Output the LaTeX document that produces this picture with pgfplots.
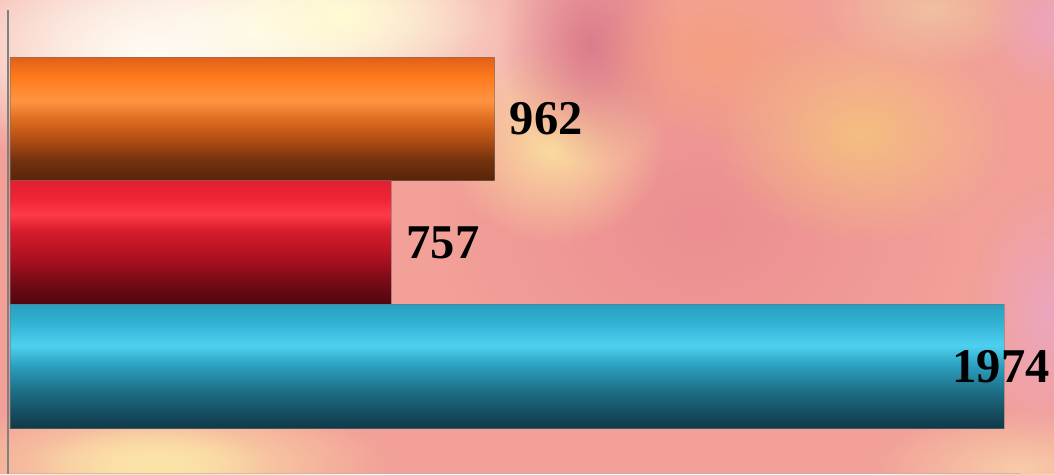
\documentclass[border=0pt]{standalone}
\usepackage{pgfplots}
\pgfplotsset{compat=1.18}
\usepackage{fontspec}
\setmainfont{Liberation Serif}
\usetikzlibrary{fadings}

% bar colours
\definecolor{o0}{HTML}{582408}\definecolor{o1}{HTML}{74320E}\definecolor{o2}{HTML}{B04D14}
\definecolor{o3}{HTML}{DC6A1E}\definecolor{o4}{HTML}{FF9443}\definecolor{o5}{HTML}{FF7A1C}\definecolor{o6}{HTML}{E06018}
\definecolor{r0}{HTML}{4E0510}\definecolor{r1}{HTML}{700A15}\definecolor{r2}{HTML}{A81020}
\definecolor{r3}{HTML}{D81C2C}\definecolor{r4}{HTML}{FF3A48}\definecolor{r5}{HTML}{F02535}\definecolor{r6}{HTML}{E02030}
\definecolor{b0}{HTML}{0F3A48}\definecolor{b1}{HTML}{14485A}\definecolor{b2}{HTML}{1E7088}
\definecolor{b3}{HTML}{2CA0C0}\definecolor{b4}{HTML}{4ED0F0}\definecolor{b5}{HTML}{30B0D0}\definecolor{b6}{HTML}{28A0C0}
% path bbox maps onto 25bp..75bp of the shading
\pgfdeclareverticalshading{orb}{100bp}{color(0bp)=(o0); color(25bp)=(o0); color(33.5bp)=(o1); color(41.5bp)=(o2); color(49.5bp)=(o3); color(57.5bp)=(o4); color(67bp)=(o5); color(75bp)=(o6); color(100bp)=(o6)}
\pgfdeclareverticalshading{redb}{100bp}{color(0bp)=(r0); color(25bp)=(r0); color(33bp)=(r1); color(43bp)=(r2); color(55bp)=(r3); color(61.5bp)=(r4); color(67.5bp)=(r5); color(75bp)=(r6); color(100bp)=(r6)}
\pgfdeclareverticalshading{blub}{100bp}{color(0bp)=(b0); color(25bp)=(b0); color(30bp)=(b1); color(40.5bp)=(b2); color(50.5bp)=(b3); color(58.5bp)=(b4); color(68.5bp)=(b5); color(75bp)=(b6); color(100bp)=(b6)}

% background colours
\definecolor{bgbase}{HTML}{F2A098}
\definecolor{cream}{HTML}{FFFCF2}
\definecolor{paley}{HTML}{FFFBD2}
\definecolor{peachy}{HTML}{FBDFA0}
\definecolor{dpink}{HTML}{DC7C8C}
\definecolor{oyel}{HTML}{F5BE80}
\definecolor{salm}{HTML}{F5A080}
\definecolor{byel}{HTML}{FCE4A8}
\definecolor{bpeach}{HTML}{F8CCA8}
\definecolor{tpeach}{HTML}{F0C0A0}
\definecolor{rpink}{HTML}{ECA6BE}
\definecolor{mpink}{HTML}{EC8E92}

\tikzfading[name=fuzzy, inner color=transparent!0, outer color=transparent!100]

\begin{document}
\begin{tikzpicture}[x=1pt,y=1pt]
\useasboundingbox (0,0) rectangle (1054,474);
% background (Y = 474 - pixel y)
\begin{scope}
\clip (0,0) rectangle (1054,474);
\fill[bgbase] (0,0) rectangle (1054,474);
\fill[mpink, path fading=fuzzy] (700,250) ellipse [x radius=260, y radius=200];
\fill[cream, path fading=fuzzy] (260,444) ellipse [x radius=360, y radius=150];
\fill[cream, path fading=fuzzy] (150,420) ellipse [x radius=250, y radius=120];
\fill[paley, path fading=fuzzy] (340,460) ellipse [x radius=150, y radius=70];
\fill[peachy, path fading=fuzzy] (555,330) ellipse [x radius=110, y radius=100];
\fill[dpink, path fading=fuzzy] (590,430) ellipse [x radius=90, y radius=120];
\fill[salm, path fading=fuzzy] (720,420) ellipse [x radius=120, y radius=90];
\fill[oyel, path fading=fuzzy] (860,340) ellipse [x radius=150, y radius=110];
\fill[tpeach, path fading=fuzzy] (930,465) ellipse [x radius=110, y radius=60];
\fill[rpink, path fading=fuzzy] (1054,450) ellipse [x radius=70, y radius=70];
\fill[byel, path fading=fuzzy] (160,10) ellipse [x radius=230, y radius=70];
\fill[byel, path fading=fuzzy] (150,10) ellipse [x radius=120, y radius=40];
\fill[bpeach, path fading=fuzzy] (1020,5) ellipse [x radius=150, y radius=60];
\fill[rpink, path fading=fuzzy] (1050,160) ellipse [x radius=80, y radius=130];
\end{scope}

\begin{axis}[at={(0,0)}, anchor=south west, scale only axis,
  width=1054pt, height=474pt,
  xmin=-19.86, xmax=2073.5, ymin=-0.869, ymax=2.962,
  axis lines=none, clip=false,
  xbar, bar width=1, bar shift=0pt,
  /pgf/number format/1000 sep={},
  /pgf/number format/assume math mode=true,
  nodes near coords,
  every node near coord/.append style={font=\fontsize{48.5}{48.5}\selectfont\bfseries, inner sep=0pt, text=black},
]
\addplot[xbar, shade, shading=orb, draw=black!55, draw opacity=0.5, line width=0.8pt,
  nodes near coords style={anchor=west, xshift=15pt}] coordinates {(962,2)};
\addplot[xbar, shade, shading=redb, draw=black!55, draw opacity=0.5, line width=0.8pt,
  nodes near coords style={anchor=west, xshift=15pt}] coordinates {(757,1)};
\addplot[xbar, shade, shading=blub, draw=black!55, draw opacity=0.5, line width=0.8pt,
  nodes near coords style={anchor=east, xshift=46pt}] coordinates {(1974,0)};
\end{axis}
% axis lines
\draw[black!50, line width=2pt] (8,464) -- (8,0);
\draw[gray!60, line width=1pt, opacity=0.6] (10,1) -- (1020,1);
\end{tikzpicture}
\end{document}
